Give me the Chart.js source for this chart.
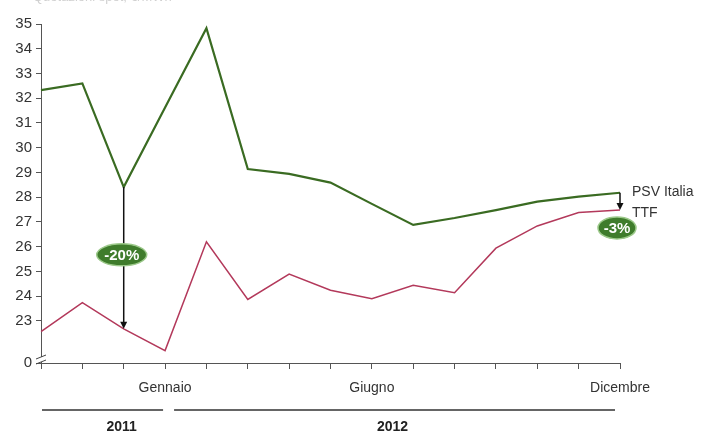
<!DOCTYPE html>
<html><head><meta charset="utf-8">
<script src="https://cdn.jsdelivr.net/npm/chart.js@4/dist/chart.umd.min.js"></script>
<style>html,body{margin:0;padding:0;background:#fff}#wrap{width:704px;height:435px;position:relative}</style>
</head><body><div id="wrap"><canvas id="c" width="704" height="435"></canvas></div>
<script>
// ---- data ----
const months = ['Ott 2011','Nov 2011','Dic 2011','Gen 2012','Feb 2012','Mar 2012','Apr 2012','Mag 2012','Giu 2012','Lug 2012','Ago 2012','Set 2012','Ott 2012','Nov 2012','Dic 2012'];
const xTickLabels = ['', '', '', 'Gennaio', '', '', '', '', 'Giugno', '', '', '', '', '', 'Dicembre'];
const psvItalia = [32.33, 32.6, 28.41, 31.63, 34.83, 29.14, 28.94, 28.59, 27.73, 26.88, 27.16, 27.48, 27.82, 28.02, 28.18];
const ttf = [22.57, 23.74, 22.68, 21.8, 26.2, 23.87, 24.89, 24.24, 23.9, 24.44, 24.14, 25.94, 26.84, 27.38, 27.48];
const yTickValues = [23, 24, 25, 26, 27, 28, 29, 30, 31, 32, 33, 34, 35];
const yBreakValue = 21.3;   // axis origin, labelled "0" (broken axis)
const yMax = 35;
const seriesNames = ['PSV Italia', 'TTF'];
const yearLabels = ['2011', '2012'];
const yearSpans = [[0, 3], [3, 14]];
const yearLabelPos = [1.95, 8.5];
const diffLabels = ['-20%', '-3%'];
const diffIndex = [2, 14];
const diffLabelValue = [25.67, 26.76];
const titleText = 'Quotazioni spot, €/MWh';

const GREEN = '#3a6b22';
const RED = '#b3395b';
const FONT = '"Liberation Sans", Arial, sans-serif';

const overlay = {
  id: 'overlay',
  afterDraw(chart) {
    const ctx = chart.ctx, x = chart.scales.x, y = chart.scales.y;
    ctx.save();
    // faint clipped title
    ctx.fillStyle = '#d0d0d0';
    ctx.font = '13px ' + FONT;
    ctx.textAlign = 'left'; ctx.textBaseline = 'alphabetic';
    ctx.fillText(titleText, 33, 1);

    // axis break marks
    const ax = chart.chartArea.left;
    const yb = y.getPixelForValue(yBreakValue) - 3;
    ctx.fillStyle = '#fff';
    ctx.fillRect(ax - 2, yb - 3, 4, 5);
    ctx.strokeStyle = '#444'; ctx.lineWidth = 1;
    ctx.beginPath();
    ctx.moveTo(ax - 5, yb - 1); ctx.lineTo(ax + 5, yb - 5);
    ctx.moveTo(ax - 5, yb + 4); ctx.lineTo(ax + 5, yb);
    ctx.stroke();

    // difference arrows & ellipse badges
    diffIndex.forEach((i, k) => {
      const px = x.getPixelForValue(i);
      const y1 = y.getPixelForValue(psvItalia[i]);
      const y2 = y.getPixelForValue(ttf[i]);
      ctx.strokeStyle = '#111'; ctx.lineWidth = 1.5;
      ctx.beginPath(); ctx.moveTo(px, y1); ctx.lineTo(px, y2 - 5); ctx.stroke();
      ctx.fillStyle = '#111';
      ctx.beginPath(); ctx.moveTo(px - 3.5, y2 - 7); ctx.lineTo(px + 3.5, y2 - 7); ctx.lineTo(px, y2); ctx.closePath(); ctx.fill();
    });
    diffIndex.forEach((i, k) => {
      const px = x.getPixelForValue(i) - (k === 1 ? 3 : 2);
      const py = y.getPixelForValue(diffLabelValue[k]);
      const rx = k === 0 ? 25 : 19, ry = 11;
      ctx.fillStyle = '#3f7c2c';
      ctx.strokeStyle = '#9cc98a'; ctx.lineWidth = 1.5;
      ctx.beginPath(); ctx.ellipse(px, py, rx, ry, 0, 0, Math.PI * 2); ctx.fill(); ctx.stroke();
      ctx.fillStyle = '#fff';
      ctx.font = 'bold 15px ' + FONT;
      ctx.textAlign = 'center'; ctx.textBaseline = 'middle';
      ctx.fillText(diffLabels[k], px, py + 1);
    });

    // series names at right
    const last = psvItalia.length - 1;
    const lx = x.getPixelForValue(last) + 12;
    ctx.fillStyle = '#333';
    ctx.font = '14px ' + FONT;
    ctx.textAlign = 'left'; ctx.textBaseline = 'middle';
    ctx.fillText(seriesNames[0], lx, y.getPixelForValue(psvItalia[last]) - 1);
    ctx.fillText(seriesNames[1], lx, y.getPixelForValue(ttf[last]) + 3);

    // year brackets
    ctx.strokeStyle = '#333'; ctx.lineWidth = 1.5;
    const ly = 410;
    ctx.beginPath();
    ctx.moveTo(x.getPixelForValue(yearSpans[0][0]) + 1, ly); ctx.lineTo(x.getPixelForValue(yearSpans[0][1]) - 2, ly);
    ctx.moveTo(x.getPixelForValue(yearSpans[1][0]) + 9, ly); ctx.lineTo(x.getPixelForValue(yearSpans[1][1]) - 5, ly);
    ctx.stroke();
    ctx.fillStyle = '#222';
    ctx.font = 'bold 14px ' + FONT;
    ctx.textAlign = 'center'; ctx.textBaseline = 'middle';
    yearLabels.forEach((t, k) => ctx.fillText(t, x.getPixelForValue(yearLabelPos[k]), 427));
    ctx.restore();
  }
};

new Chart(document.getElementById('c'), {
  type: 'line',
  data: {
    labels: months,
    datasets: [
      { label: seriesNames[0], data: psvItalia, borderColor: GREEN, borderWidth: 2.2, pointRadius: 0, tension: 0, fill: false },
      { label: seriesNames[1], data: ttf, borderColor: RED, borderWidth: 1.5, pointRadius: 0, tension: 0, fill: false }
    ]
  },
  options: {
    responsive: false,
    animation: false,
    events: [],
    layout: { padding: { top: 24, right: 84, left: 0, bottom: 0 } },
    plugins: { legend: { display: false }, tooltip: { enabled: false } },
    scales: {
      x: {
        offset: false,
        border: { display: true, color: '#555', width: 1 },
        grid: { display: true, drawOnChartArea: false, tickLength: 6, color: '#555' },
        ticks: {
          autoSkip: false, maxRotation: 0, minRotation: 0, padding: 11,
          color: '#333', font: { family: FONT, size: 14 },
          callback: (v, i) => xTickLabels[i]
        },
        afterFit: s => { s.height = 72; }
      },
      y: {
        min: yBreakValue, max: yMax,
        border: { display: true, color: '#555', width: 1 },
        grid: { display: true, drawOnChartArea: false, tickLength: 5, color: '#555' },
        afterBuildTicks: s => { s.ticks = [yBreakValue, ...yTickValues].map(v => ({ value: v })); },
        ticks: {
          padding: 4, color: '#333', font: { family: FONT, size: 15 },
          callback: v => (v === yBreakValue ? '0' : String(v))
        },
        afterFit: s => { s.width = 41; }
      }
    }
  },
  plugins: [overlay]
});
</script>
</body></html>
